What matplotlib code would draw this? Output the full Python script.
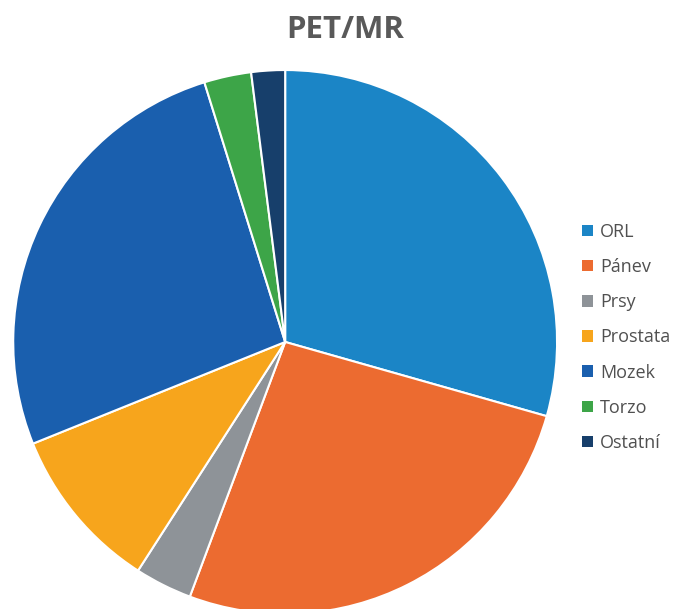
import matplotlib
matplotlib.use('Agg')
import matplotlib.pyplot as plt
from matplotlib.patches import Patch

labels = ['ORL', 'Pánev', 'Prsy', 'Prostata', 'Mozek', 'Torzo', 'Ostatní']
values = [29.4, 26.3, 3.4, 9.8, 26.3, 2.8, 2.0]
colors = ['#1B85C6', '#EC6B30', '#8E9398', '#F7A51C', '#1A5FAE', '#3DA548', '#173F6B']

plt.rcParams['font.family'] = ['Open Sans', 'DejaVu Sans']

fig = plt.figure(figsize=(6.83, 6.09), dpi=100)
ax = fig.add_axes([0.019, -0.008, 0.797, 0.893])
ax.pie(values, colors=colors, startangle=90, counterclock=False,
       wedgeprops=dict(edgecolor='white', linewidth=1.5))
ax.set_xlim(-1, 1)
ax.set_ylim(-1, 1)
ax.set_aspect('equal')
ax.axis('off')

fig.text(0.505, 0.951, 'PET/MR', ha='center', va='center',
         fontsize=22.5, fontweight='bold', color='#595959')

handles = [Patch(facecolor=c, edgecolor='none') for c in colors]
fig.legend(handles, labels, loc='center left', bbox_to_anchor=(0.852, 0.446),
           frameon=False, fontsize=13, labelcolor='#505050',
           handlelength=0.6, handleheight=0.6, handletextpad=0.4,
           labelspacing=0.95, borderaxespad=0, borderpad=0)

fig.savefig('out.png', dpi=100)
